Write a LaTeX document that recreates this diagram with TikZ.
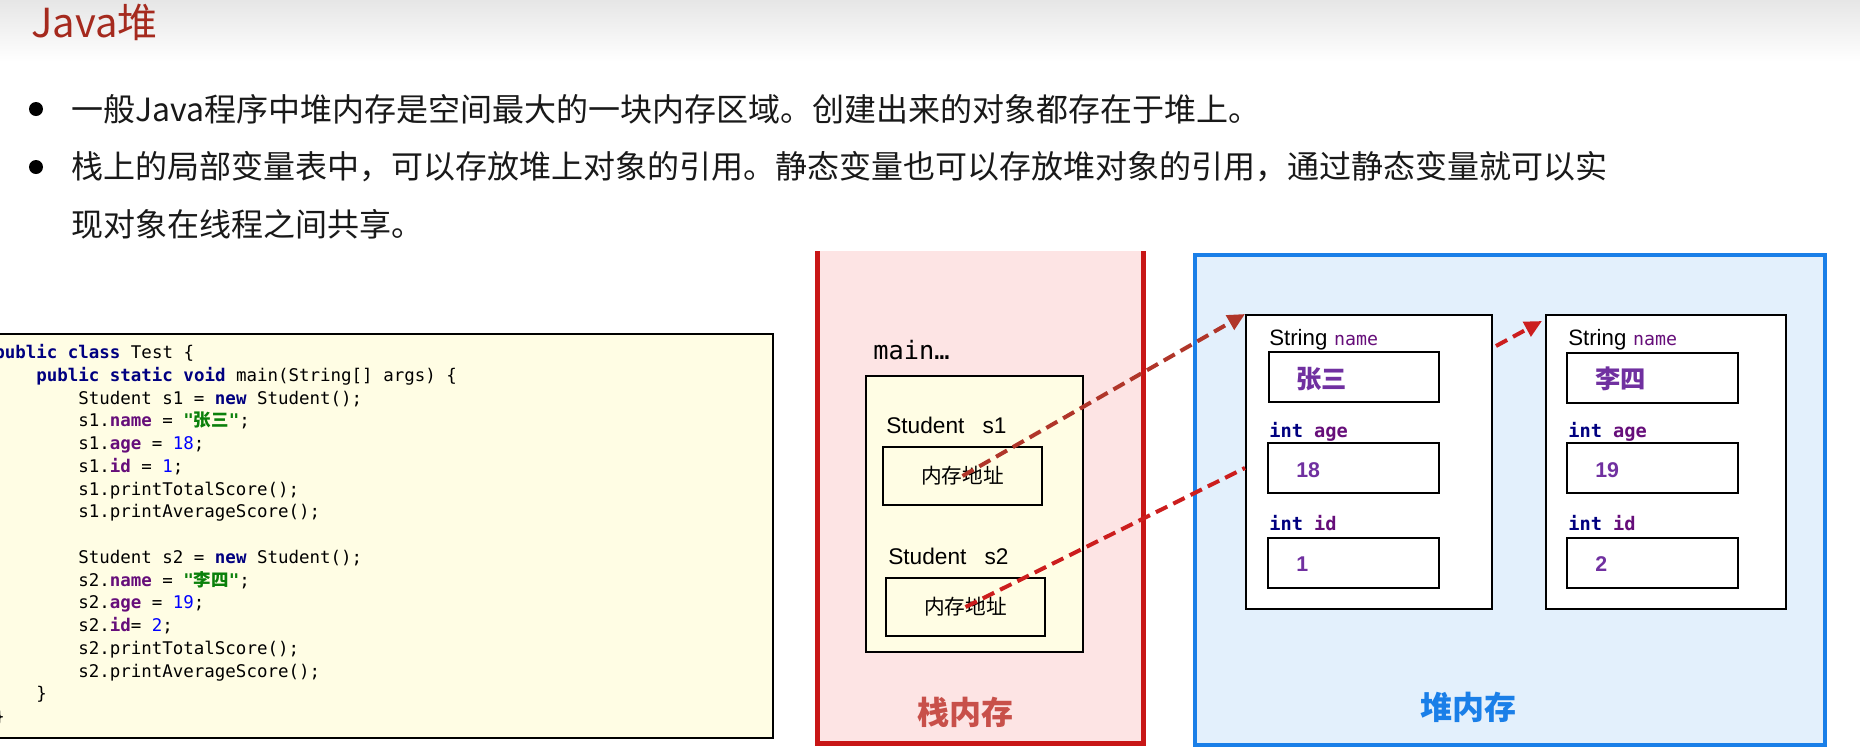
\documentclass[tikz,border=0pt]{standalone}
\usepackage{fontspec}
\setmainfont{Noto Sans CJK SC}
\newfontfamily\cjkf{Noto Sans CJK SC}
\newfontfamily\monof{DejaVu Sans Mono}
\newfontfamily\latf{Liberation Sans}
\usetikzlibrary{arrows.meta,calc}
\definecolor{titlered}{HTML}{A52A1E}
\definecolor{kwc}{HTML}{000080}
\definecolor{fldc}{HTML}{660E7A}
\definecolor{numc}{HTML}{0000FF}
\definecolor{strc}{HTML}{0A800A}
\definecolor{valc}{HTML}{7030A0}
\definecolor{codebg}{HTML}{FFFDE4}
\definecolor{stackbg}{HTML}{FDE4E4}
\definecolor{stackred}{HTML}{C81616}
\definecolor{stacklabel}{HTML}{C8504A}
\definecolor{heapbg}{HTML}{E3F0FC}
\definecolor{heapblue}{HTML}{1A7FE8}
\definecolor{arrA}{HTML}{B0362A}
\definecolor{arrB}{HTML}{CC1E1E}
\definecolor{bandgray}{HTML}{E6E6E6}
\newcommand\kwd[1]{{\bfseries\color{kwc}#1}}
\newcommand\fld[1]{{\bfseries\color{fldc}#1}}
\newcommand\numv[1]{{\color{numc}#1}}
\newcommand\strv[1]{{\bfseries\color{strc}#1}}
\begin{document}
\begin{tikzpicture}[x=0.75pt,y=-0.75pt,
  bodytext/.style={anchor=west,inner sep=0pt,font=\fontsize{24}{28}\selectfont,text=black!90},
  bulletdot/.style={circle,fill=black,inner sep=0pt,minimum size=10.5pt},
  codeline/.style={anchor=base west,inner sep=0pt,font=\fontsize{13.1}{15}\selectfont\monof},
  blackbox/.style={draw=black,line width=1.5pt,inner sep=0pt},
  addrbox/.style={blackbox,minimum width=119.25pt,minimum height=43.5pt,font=\fontsize{15.5}{17}\selectfont\cjkf},
  fieldbox/.style={blackbox,fill=white,minimum width=128pt,minimum height=37.5pt},
  objbox/.style={blackbox,fill=white,minimum height=220.5pt},
  flabel/.style={anchor=base west,inner sep=0pt},
  valtext/.style={anchor=west,inner sep=0pt,text=valc,font=\fontsize{16}{18}\selectfont\bfseries\latf},
  valcjk/.style={anchor=west,inner sep=0pt,text=valc,font=\fontsize{19}{21}\selectfont\bfseries\cjkf},
  ptr/.style={line width=3pt,dash pattern=on 9.5pt off 5pt},
  tip/.style={-{Triangle[length=13pt,width=12pt]}}
]
\useasboundingbox (0,0) rectangle (1860,751);
\fill[white] (0,0) rectangle (1860,751);
\shade[top color=bandgray,bottom color=white] (0,0) rectangle (1860,62);

% title and bullets
\node[anchor=west,inner sep=0pt,text=titlered,font=\fontsize{30}{34}\selectfont] (title) at (31,22) {Java堆};
\node[bulletdot] (d1) at (36,109) {};
\node[bulletdot] (d2) at (36,167) {};
\node[bodytext] (b1) at (71,109) {一般Java程序中堆内存是空间最大的一块内存区域。创建出来的对象都存在于堆上。};
\node[bodytext] (b2) at (71,167) {栈上的局部变量表中，可以存放堆上对象的引用。静态变量也可以存放堆对象的引用，通过静态变量就可以实};
\node[bodytext] (b3) at (71,224) {现对象在线程之间共享。};

% code box
\node[blackbox,fill=codebg,minimum width=583.5pt,minimum height=303pt] (code) at (384,536) {};
\node[codeline] (c1) at (-6,358.5) {\kwd{public} \kwd{class} Test \{};
\node[codeline] (c2) at (36,381.3) {\kwd{public} \kwd{static} \kwd{void} main(String[] args) \{};
\node[codeline] (c3) at (78,404.0) {Student s1 = \kwd{new} Student();};
\node[codeline] (c4) at (78,426.8) {s1.\fld{name} = \strv{"{\cjkf 张三}"};};
\node[codeline] (c5) at (78,449.5) {s1.\fld{age} = \numv{18};};
\node[codeline] (c6) at (78,472.3) {s1.\fld{id} = \numv{1};};
\node[codeline] (c7) at (78,495.1) {s1.printTotalScore();};
\node[codeline] (c8) at (78,517.8) {s1.printAverageScore();};
\node[codeline] (c10) at (78,563.3) {Student s2 = \kwd{new} Student();};
\node[codeline] (c11) at (78,586.1) {s2.\fld{name} = \strv{"{\cjkf 李四}"};};
\node[codeline] (c12) at (78,608.9) {s2.\fld{age} = \numv{19};};
\node[codeline] (c13) at (78,631.6) {s2.\fld{id}= \numv{2};};
\node[codeline] (c14) at (78,654.4) {s2.printTotalScore();};
\node[codeline] (c15) at (78,677.1) {s2.printAverageScore();};
\node[codeline] (c16) at (36,699.9) {\}};
\node[codeline] (c17) at (-6,722.7) {\}};

% stack
\fill[stackbg] (817,251) rectangle (1143,743);
\draw[stackred,line width=3.75pt] (817,251) -- (817,743) -- (1143,743) -- (1143,251);
\node[anchor=base west,inner sep=0pt,font=\fontsize{19}{21}\selectfont\monof] (mainlbl) at (873,359) {main…};
\node[blackbox,fill=codebg,minimum width=162.75pt,minimum height=207pt] (frame) at (974.5,514) {};
\node[anchor=base west,inner sep=0pt,font=\fontsize{17}{19}\selectfont\latf] (s1lbl) at (886,433) {Student\hspace{0.8em}s1};
\node[addrbox] (addr1) at (962.5,476) {内存地址};
\node[anchor=base west,inner sep=0pt,font=\fontsize{17}{19}\selectfont\latf] (s2lbl) at (888,564) {Student\hspace{0.8em}s2};
\node[addrbox] (addr2) at (965.5,607) {内存地址};
\node[text=stacklabel,font=\fontsize{24}{28}\selectfont\bfseries,inner sep=0pt] (stacklbl) at (965,712) {栈内存};

% heap
\node[draw=heapblue,fill=heapbg,line width=3pt,minimum width=472.5pt,minimum height=367.5pt,inner sep=0pt] (heap) at (1510,500) {};
\node[text=heapblue,font=\fontsize{24}{28}\selectfont\bfseries,inner sep=0pt] (heaplbl) at (1468,707) {堆内存};

\node[objbox,minimum width=184.5pt] (obj1) at (1369,462) {};
\node[objbox,minimum width=180pt] (obj2) at (1666,462) {};

\node[flabel] (n1) at (1269,345) {{\fontsize{16.7}{18}\selectfont\latf String}\hspace{5pt}{\fontsize{13.7}{16}\selectfont\monof\color{fldc}name}};
\node[fieldbox] (nb1) at (1354,377) {};
\node[valcjk] (v1) at (1296,379) {张三};
\node[flabel,font=\fontsize{14}{16}\selectfont\monof\bfseries] (a1) at (1269,437) {{\color{kwc}int} {\color{fldc}age}};
\node[fieldbox] (ab1) at (1353.5,468) {};
\node[valtext] (v2) at (1296,470.5) {18};
\node[flabel,font=\fontsize{14}{16}\selectfont\monof\bfseries] (i1) at (1269,530) {{\color{kwc}int} {\color{fldc}id}};
\node[fieldbox] (ib1) at (1353.5,562.5) {};
\node[valtext] (v3) at (1296,564) {1};

\node[flabel] (n2) at (1568,345) {{\fontsize{16.7}{18}\selectfont\latf String}\hspace{5pt}{\fontsize{13.7}{16}\selectfont\monof\color{fldc}name}};
\node[fieldbox] (nb2) at (1652.5,377.5) {};
\node[valcjk] (w1) at (1595,379) {李四};
\node[flabel,font=\fontsize{14}{16}\selectfont\monof\bfseries] (a2) at (1568,437) {{\color{kwc}int} {\color{fldc}age}};
\node[fieldbox] (ab2) at (1652.5,468) {};
\node[valtext] (w2) at (1595,470.5) {19};
\node[flabel,font=\fontsize{14}{16}\selectfont\monof\bfseries] (i2) at (1568,530) {{\color{kwc}int} {\color{fldc}id}};
\node[fieldbox] (ib2) at (1652.5,562.5) {};
\node[valtext] (w3) at (1595,564) {2};

% references
\draw[ptr,tip,arrA] (addr1.center) -- (obj1.north west);
\draw[ptr,arrB] (addr2.center) -- ($(obj1.north west)!0.52!(obj1.south west)$);
\draw[ptr,tip,arrB] ($(obj1.north east)+(3,32)$) -- ($(obj2.north west)+(-3,7)$);
\end{tikzpicture}
\end{document}
